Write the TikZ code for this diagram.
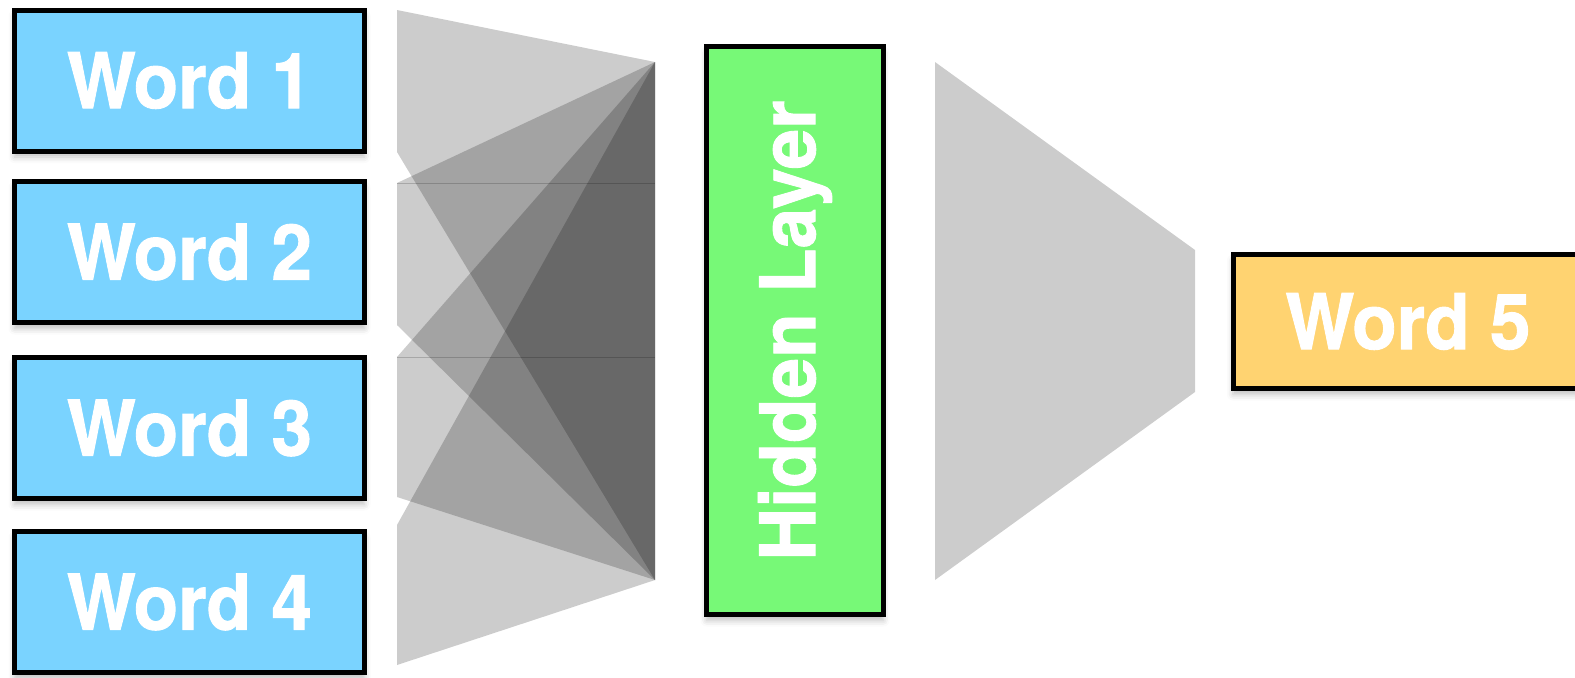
\documentclass[tikz,border=0pt]{standalone}
\usepackage{fontspec}
\newfontfamily\lbl[BoldFeatures={FakeBold=1.2}]{TeX Gyre Heros}
\usetikzlibrary{shadows.blur}
\definecolor{wordblue}{RGB}{122,211,255}
\definecolor{hidgreen}{RGB}{119,249,119}
\definecolor{outorange}{RGB}{255,211,113}
\definecolor{fangray}{RGB}{204,204,204}
\newcommand{\sq}[1]{\scalebox{0.95}[1]{#1}}
\tikzset{
  box/.style={draw=black, line width=2.5pt, inner sep=0pt,
    blur shadow={shadow xshift=0pt, shadow yshift=-3pt, shadow blur radius=3pt, shadow opacity=25},
    font=\lbl\bfseries\fontsize{38.4}{40}\selectfont, text=white},
  wordbox/.style={box, fill=wordblue, minimum width=175pt, minimum height=70.5pt},
  hidbox/.style={box, fill=hidgreen, minimum width=88.5pt, minimum height=284pt},
  outbox/.style={box, fill=outorange, minimum width=175pt, minimum height=67pt},
  lbltext/.style={font=\lbl\bfseries\fontsize{38.4}{40}\selectfont, text=white, inner sep=0pt},
  fan/.style={fill=black, fill opacity=0.2, draw=none},
  seam/.style={draw=black, draw opacity=0.18, line width=0.5pt},
}
\begin{document}
\begin{tikzpicture}[x=0.5pt,y=-0.5pt]
\useasboundingbox (0,0) rectangle (1575,677);
% fan from input words to hidden layer
\coordinate (ht) at (655,62);
\coordinate (hb) at (655,580);
\fill[fan] (397,10) -- (ht) -- (hb) -- (397,152) -- cycle;
\fill[fan] (397,183) -- (ht) -- (hb) -- (397,325) -- cycle;
\fill[fan] (397,357) -- (ht) -- (hb) -- (397,497) -- cycle;
\fill[fan] (397,525) -- (ht) -- (hb) -- (397,665) -- cycle;
\draw[seam] (397,183) -- (655,183);
\draw[seam] (397,357) -- (655,357);
% fan from hidden layer to output
\fill[fangray] (935,62) -- (1195,250) -- (1195,392) -- (935,580) -- cycle;
% nodes
\node[wordbox] (w1) at (189.5,80.5) {\sq{Word 1}};
\node[wordbox] (w2) at (189.5,252) {\sq{Word 2}};
\node[wordbox] (w3) at (189.5,428) {\sq{Word 3}};
\node[wordbox] (w4) at (189.5,602) {\sq{Word 4}};
\node[hidbox] (hid) at (795,330.5) {};
\node[lbltext, rotate=90] (hidlbl) at (hid.center) {\sq{Hidden Layer}};
\node[outbox] (w5) at (1408,321.5) {\sq{Word 5}};
\end{tikzpicture}
\end{document}
